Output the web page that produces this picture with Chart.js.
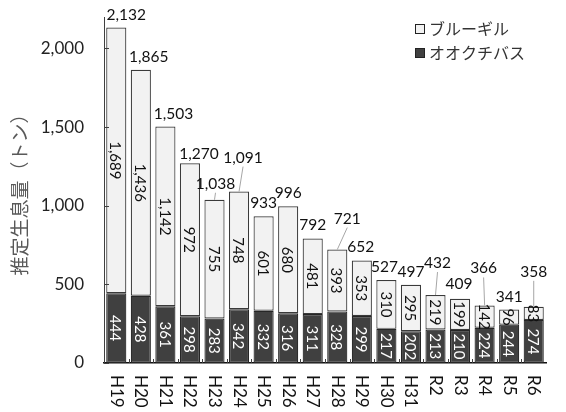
<!DOCTYPE html>
<html>
<head>
<meta charset="utf-8">
<script src="https://cdn.jsdelivr.net/npm/chart.js@4.4.0/dist/chart.umd.min.js"></script>
<style>
html,body{margin:0;padding:0;background:#fff;}
</style>
</head>
<body>
<canvas id="chart" width="566" height="412"></canvas>
<script>
// data
var years = ['H19','H20','H21','H22','H23','H24','H25','H26','H27','H28','H29','H30','H31','R2','R3','R4','R5','R6'];
var bass = [444,428,361,298,283,342,332,316,311,328,299,217,202,213,210,224,244,274];
var bluegill = [1689,1436,1142,972,755,748,601,680,481,393,353,310,295,219,199,142,96,83];
var totals = [2132,1865,1503,1270,1038,1091,933,996,792,721,652,527,497,432,409,366,341,358];
var yTicks = [0,500,1000,1500,2000];

// hand placed total labels in the original (pixel nudges, not data)
var totalDx = [10,8,8,9,1,4,0,0,0,10,-1,-2,0,2,-1,-1,0,0];
var totalLift = [0,0,0,-4,3,21,0,0,0,18,0,0,0,19,2,24,0,22];

var numFont = 'Lato, "Noto Sans", sans-serif';
var jpFont = '"Noto Sans CJK JP", sans-serif';

function fmt(v) { return Number(v).toLocaleString('en-US'); }

var labelsPlugin = {
  id: 'labels',
  afterDatasetsDraw: function (chart) {
    var ctx = chart.ctx;
    var xs = chart.scales.x;
    var area = chart.chartArea;
    ctx.save();

    // small inside tick marks
    ctx.strokeStyle = '#404040';
    ctx.lineWidth = 1;
    var ys = chart.scales.y;
    yTicks.forEach(function (v) {
      var py = Math.round(ys.getPixelForValue(v)) + 0.5;
      ctx.beginPath(); ctx.moveTo(area.left, py); ctx.lineTo(area.left + 5, py); ctx.stroke();
    });
    var step = (area.right - area.left) / years.length;
    for (var k = 1; k < years.length; k++) {
      var px = Math.round(area.left + step * k) + 0.5;
      ctx.beginPath(); ctx.moveTo(px, area.bottom); ctx.lineTo(px, area.bottom - 4); ctx.stroke();
    }

    // values inside the segments, turned clockwise
    ctx.font = '15px ' + numFont;
    ctx.textAlign = 'center';
    ctx.textBaseline = 'middle';
    chart.data.datasets.forEach(function (ds, di) {
      var meta = chart.getDatasetMeta(di);
      meta.data.forEach(function (bar, i) {
        var cy = (bar.y + bar.base) / 2;
        ctx.save();
        ctx.translate(bar.x, cy);
        ctx.rotate(Math.PI / 2);
        ctx.fillStyle = di === 0 ? '#ffffff' : '#111111';
        ctx.fillText(fmt(ds.data[i]), 0, 1);
        ctx.restore();
      });
    });

    // totals above the bars
    var top = chart.getDatasetMeta(1).data;
    ctx.font = '15.5px ' + numFont;
    ctx.fillStyle = '#111111';
    top.forEach(function (bar, i) {
      var ly = bar.y - 13 - totalLift[i];
      var lx = bar.x + totalDx[i];
      if (totalLift[i] > 2) {
        ctx.strokeStyle = '#a6a6a6';
        ctx.beginPath();
        ctx.moveTo(bar.x, bar.y);
        ctx.lineTo(lx, ly + 9);
        ctx.stroke();
      }
      ctx.fillText(fmt(totals[i]), lx, ly);
    });

    // category labels, turned clockwise
    ctx.font = '17px ' + numFont;
    ctx.fillStyle = '#111111';
    ctx.textAlign = 'left';
    years.forEach(function (lab, i) {
      var x = xs.getPixelForTick(i);
      ctx.save();
      ctx.translate(x, area.bottom + 12);
      ctx.rotate(Math.PI / 2);
      ctx.fillText(lab, 0, 0);
      ctx.restore();
    });

    // legend
    var items = [1, 0];
    ctx.font = '16px ' + jpFont;
    ctx.textBaseline = 'middle';
    items.forEach(function (di, r) {
      var ds = chart.data.datasets[di];
      var y = 29 + r * 24;
      ctx.fillStyle = ds.backgroundColor;
      ctx.fillRect(415.5, y - 4.5, 9, 9);
      ctx.strokeStyle = '#222';
      ctx.strokeRect(415.5, y - 4.5, 9, 9);
      ctx.fillStyle = '#333333';
      ctx.fillText(ds.label, 429, y);
    });
    ctx.restore();
  }
};

var ctx = document.getElementById('chart').getContext('2d');
var chart = new Chart(ctx, {
  type: 'bar',
  data: {
    labels: years,
    datasets: [
      {
        label: 'オオクチバス',
        data: bass,
        backgroundColor: '#404040',
        borderColor: '#262626',
        borderWidth: 1.2,
        borderSkipped: false
      },
      {
        label: 'ブルーギル',
        data: bluegill,
        backgroundColor: '#f2f2f2',
        borderColor: '#3a3a3a',
        borderWidth: 1.2,
        borderSkipped: false
      }
    ]
  },
  options: {
    responsive: false,
    animation: false,
    devicePixelRatio: 1,
    layout: { padding: { top: 17, right: 20, left: 0, bottom: 0 } },
    datasets: { bar: { categoryPercentage: 1, barPercentage: 0.82 } },
    plugins: {
      legend: { display: false },
      tooltip: { enabled: false }
    },
    scales: {
      x: {
        stacked: true,
        grid: { display: false },
        border: { display: true, color: '#111', width: 1.5 },
        ticks: { display: false },
        afterFit: function (s) { s.height = 49; }
      },
      y: {
        stacked: true,
        min: 0,
        max: 2200,
        grid: { display: false, drawTicks: true, tickLength: 16 },
        border: { display: true, color: '#404040', width: 1 },
        afterBuildTicks: function (s) {
          s.ticks = yTicks.map(function (v) { return { value: v }; });
        },
        afterFit: function (s) { s.width = 104; },
        ticks: {
          padding: 4,
          color: '#222',
          font: { family: numFont, size: 17 },
          callback: function (v) { return fmt(v); }
        },
        title: {
          display: true,
          text: '推定生息量（トン）',
          color: '#595959',
          font: { family: jpFont, size: 19 },
          padding: { top: 8, bottom: 0 }
        }
      }
    }
  },
  plugins: [labelsPlugin]
});
</script>
</body>
</html>
